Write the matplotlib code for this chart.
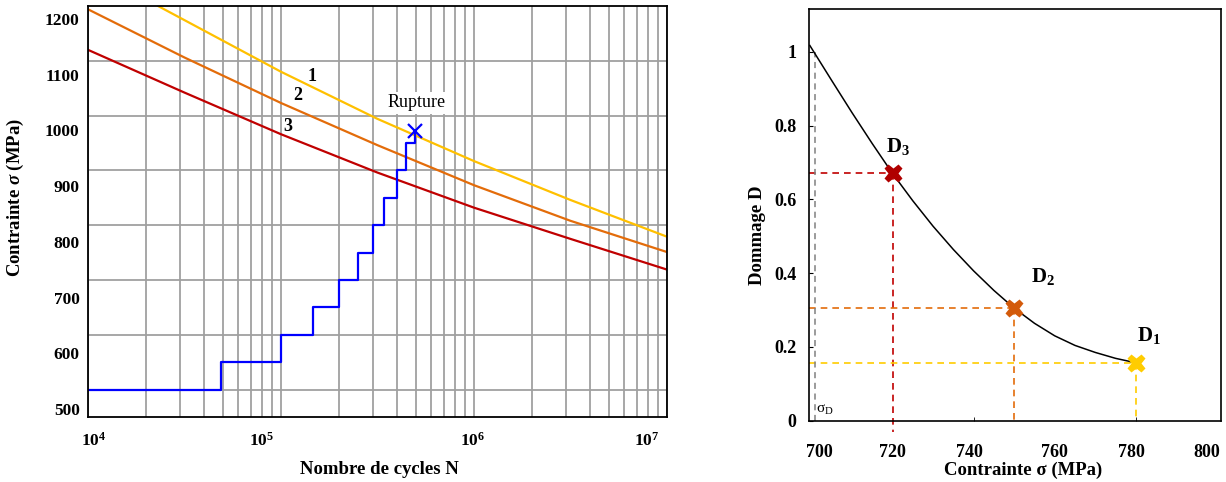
import numpy as np
import matplotlib.pyplot as plt
from matplotlib.ticker import FixedLocator, LogLocator, NullFormatter

plt.rcParams['font.family'] = 'Liberation Serif'
plt.rcParams['mathtext.fontset'] = 'custom'
plt.rcParams['mathtext.rm'] = 'Liberation Serif'
plt.rcParams['mathtext.bf'] = 'Liberation Serif:bold'
plt.rcParams['mathtext.it'] = 'Liberation Serif:italic:bold'

## Courbes de Woehler (log10 N, contrainte en MPa)
logN_1 = [4.363, 5.0, 5.5, 6.0, 6.5, 7.0]
sig_1 = [1200, 1080, 994, 917, 846, 779]
logN_2 = [4.0, 4.5, 5.0, 5.5, 6.0, 6.5, 7.0]
sig_2 = [1194, 1106, 1023, 946, 873, 808, 751]
logN_3 = [4.0, 4.5, 5.0, 5.5, 6.0, 6.5, 7.0]
sig_3 = [1120, 1042, 966, 896, 832, 775, 719]
curve_labels = ['1', '2', '3']
curve_label_logN = [5.159, 5.087, 5.033]
curve_label_sig = [1072, 1036, 981]

## Essai par paliers
N_steps = [1e4, 4.9e4, 1.0e5, 1.47e5, 2.0e5, 2.5e5, 3.0e5, 3.4e5, 4.0e5, 4.45e5, 4.95e5]
sig_steps = [500, 550, 600, 650, 700, 750, 800, 850, 900, 950, 971]

## Dommage
sig_D = [699.6, 705, 710, 715, 720, 725, 730, 735, 740, 745, 750,
         755, 760, 765, 770, 775, 780]
D_curve = [1.017, 0.922, 0.835, 0.751, 0.670, 0.596, 0.527, 0.464, 0.406, 0.353, 0.305,
           0.264, 0.230, 0.204, 0.185, 0.169, 0.157]
pts_sig = [720, 750, 780]
pts_D = [0.67, 0.305, 0.157]
pts_names = ['3', '2', '1']
sigma_lim = 700.8
sig_ticks = ['700', '720', '740', '760', '780', '800']

c_yel = '#FFC000'
c_ora = '#E36C0A'
c_red = '#C00000'

fig = plt.figure(figsize=(12.26, 4.82), dpi=100)
ax1 = fig.add_axes([88/1226, 65/482, 579/1226, 411/482])
ax2 = fig.add_axes([809/1226, 61.3/482, 412/1226, 411.4/482])

# ---- left
ax1.set_xscale('log')
ax1.set_xlim(1e4, 1e7)
ax1.set_ylim(450, 1200)
ax1.xaxis.set_minor_locator(LogLocator(base=10, subs=np.arange(1, 10)))
ax1.xaxis.set_minor_formatter(NullFormatter())
ax1.yaxis.set_minor_locator(FixedLocator([500, 600, 700, 800, 900, 1000, 1100]))
# labels are drawn a little off the grid lines in the original
ax1.set_xticks(10 ** np.array([4.03, 4.90, 5.995, 6.896]))
ax1.set_xticklabels([r'$\mathbf{10^{4}}$', r'$\mathbf{10^{5}}$', r'$\mathbf{10^{6}}$', r'$\mathbf{10^{7}}$'])
ax1.set_yticks([464, 566, 668, 769, 871, 973, 1074, 1176])
ax1.set_yticklabels(['500', '600', '700', '800', '900', '1000', '1100', '1200'])
ax1.tick_params(which='both', length=0, labelsize=12.5)
ax1.tick_params(axis='x', pad=11)
ax1.tick_params(axis='y', pad=6)
for lab in ax1.get_yticklabels():
    lab.set_fontweight('bold')
ax1.grid(which='minor', color='#a0a0a0', lw=1.3)
ax1.grid(which='major', visible=False)
ax1.set_axisbelow(True)

ax1.plot(10 ** np.array(logN_1), sig_1, color=c_yel, lw=1.6)
ax1.plot(10 ** np.array(logN_2), sig_2, color=c_ora, lw=1.6)
ax1.plot(10 ** np.array(logN_3), sig_3, color=c_red, lw=1.6)
for t, lx, s in zip(curve_labels, curve_label_logN, curve_label_sig):
    ax1.text(10 ** lx, s, t, fontsize=13, fontweight='bold', ha='center', va='center')

ax1.step(N_steps, sig_steps, where='post', color='#0000FF', lw=1.6)
ax1.plot(N_steps[-1], sig_steps[-1], 'x', color='#0000FF', ms=10, mew=1.6)
ax1.text(10 ** 5.703, 1023, 'Rupture', fontsize=13, ha='center', va='center',
         bbox=dict(facecolor='white', edgecolor='none', pad=2))

ax1.set_xlabel('Nombre de cycles N', fontsize=13.5, fontweight='bold')
ax1.xaxis.set_label_coords(0.504, -0.107)
ax1.set_ylabel(r'Contrainte $\sigma$ (MPa)', fontsize=13.5, fontweight='bold')
ax1.yaxis.set_label_coords(-0.107, 0.533)
for sp in ax1.spines.values():
    sp.set_linewidth(1.3)

# ---- right
ax2.set_xlim(699.4, 801)
ax2.set_ylim(0, 1.115)
# tick labels sit a bit off the true values in the original
ax2.set_xticks([702, 720, 739, 760, 779, 797.5])
ax2.set_xticklabels(sig_ticks)
ax2.xaxis.set_minor_locator(FixedLocator([720, 740, 760, 780]))
ax2.set_yticks([0, 0.2, 0.4, 0.6, 0.8, 1])
ax2.set_yticklabels(['0', '0.2', '0.4', '0.6', '0.8', '1'])
ax2.tick_params(axis='x', which='major', length=0)
ax2.tick_params(which='both', direction='in', labelsize=13)
ax2.tick_params(axis='y', length=3, pad=9)
ax2.tick_params(axis='x', which='minor', length=3)
ax2.tick_params(axis='x', pad=17)
for lab in ax2.get_xticklabels() + ax2.get_yticklabels():
    lab.set_fontweight('bold')

cols = [c_red, c_ora, '#FFCC00']
for s, d, c, n in zip(pts_sig, pts_D, cols, pts_names):
    ax2.plot([699.4, s], [d, d], color=c, lw=1.2, ls=(0, (4, 3)))
    ax2.plot([s, s], [d, -0.03 if n == '3' else 0], color=c, lw=1.2, ls=(0, (4, 3)), clip_on=False)
ax2.plot([sigma_lim, sigma_lim], [0, 1.0], color='#808080', lw=1.1, ls=(0, (4, 3)))
ax2.plot(sig_D, D_curve, color='black', lw=1.1)
for s, d, c in zip(pts_sig, pts_D, ['#B00000', '#D35A0A', '#FFCC00']):
    ax2.plot(s, d, 'X', color=c, ms=13, mec='none')

lab_sig = [721.3, 757, 783.2]
lab_D = [0.743, 0.39, 0.232]
for s, d, n in zip(lab_sig, lab_D, pts_names):
    ax2.text(s, d, r'$\mathbf{D}_{\mathbf{%s}}$' % n, fontsize=15, ha='center', va='center')
ax2.text(703.3, 0.03, r'σ$_{\mathrm{D}}$', fontsize=11, ha='center', va='center')

ax2.set_xlabel('Contrainte σ (MPa)', fontsize=13.5, fontweight='bold')
ax2.xaxis.set_label_coords(0.519, -0.100)
ax2.set_ylabel('Dommage D', fontsize=13.5, fontweight='bold')
ax2.yaxis.set_label_coords(-0.104, 0.451)
for sp in ax2.spines.values():
    sp.set_linewidth(1.2)

fig.savefig('out.png', dpi=100)
